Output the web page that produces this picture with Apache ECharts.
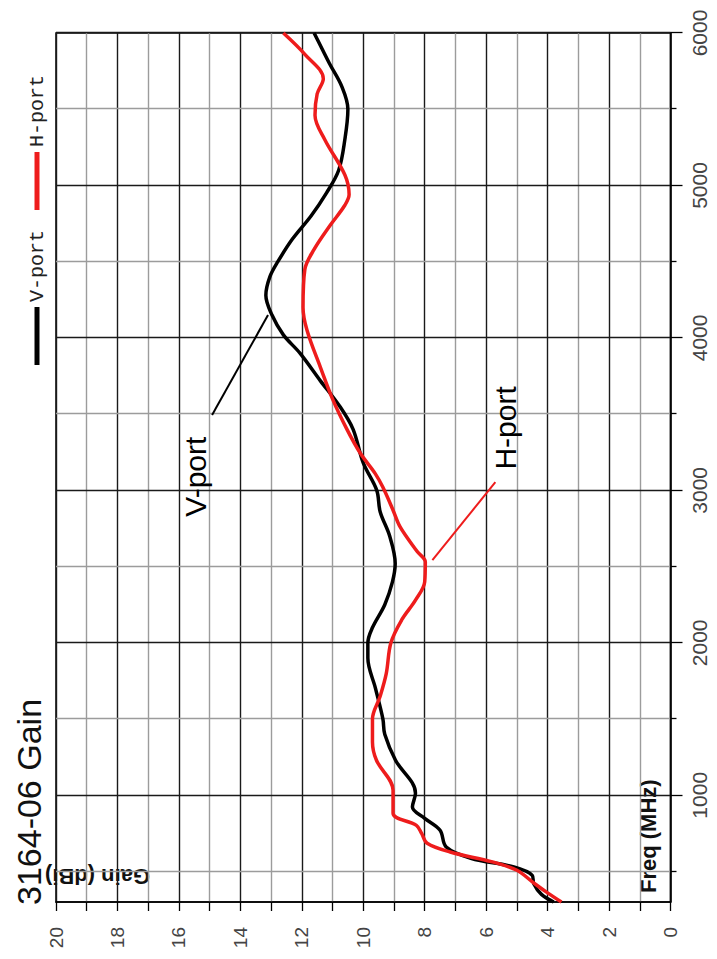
<!DOCTYPE html>
<html>
<head>
<meta charset="utf-8">
<script src="https://cdn.jsdelivr.net/npm/echarts@6/dist/echarts.min.js"></script>
<style>
  html, body { margin: 0; padding: 0; width: 717px; height: 959px; overflow: hidden; background: #fff; }
  /* The gain plot is laid out landscape and turned a quarter turn anticlockwise onto the portrait page. */
  #chart {
    position: absolute; left: 0; top: 0;
    width: 959px; height: 717px;
    transform-origin: 0 0;
    transform: translateY(959px) rotate(-90deg);
  }
</style>
</head>
<body>
<div id="chart"></div>
<script>
// Measured antenna gain, 3164-06, per port
const freqV = [300, 350, 420, 475, 530, 587, 661, 771, 849, 923, 1014, 1230, 1400, 1500, 1700, 1900, 2000, 2100, 2250, 2400, 2520, 2700, 2860, 3000, 3180, 3400, 3550, 3720, 3900, 4020, 4150, 4280, 4400, 4500, 4650, 4800, 4950, 5100, 5300, 5500, 5650, 5800, 5900, 6000];
const gainV = [3.8, 4.2, 4.45, 4.5, 5.1, 6.5, 7.3, 7.5, 8.0, 8.4, 8.3, 8.95, 9.3, 9.36, 9.6, 9.85, 9.85, 9.7, 9.3, 9.05, 8.96, 9.14, 9.45, 9.56, 10.0, 10.33, 10.76, 11.4, 12.06, 12.6, 12.97, 13.17, 13.04, 12.78, 12.3, 11.7, 11.2, 10.8, 10.6, 10.5, 10.7, 11.1, 11.35, 11.6];

const freqH = [300, 360, 423, 508, 563, 628, 685, 750, 803, 882, 1033, 1230, 1350, 1500, 1650, 1800, 2000, 2150, 2280, 2400, 2530, 2600, 2760, 2870, 3020, 3110, 3245, 3400, 3590, 3810, 4050, 4200, 4450, 4580, 4740, 4870, 4940, 5070, 5300, 5460, 5600, 5700, 5860, 6000];
const gainH = [3.55, 4.0, 4.44, 5.0, 5.8, 7.17, 7.92, 8.1, 8.27, 9.03, 9.03, 9.57, 9.7, 9.7, 9.45, 9.25, 9.1, 8.75, 8.3, 8.0, 7.98, 8.25, 8.8, 9.03, 9.36, 9.61, 10.1, 10.53, 10.98, 11.4, 11.83, 11.96, 11.9, 11.6, 11.07, 10.6, 10.46, 10.6, 11.25, 11.57, 11.5, 11.3, 11.9, 12.6];

// Axis ticks
const freqMajorTicks = [1000, 2000, 3000, 4000, 5000, 6000];
const freqMinorTicks = [500, 1500, 2500, 3500, 4500, 5500];
const gainMinorTicks = [1, 3, 5, 7, 9, 11, 13, 15, 17, 19];

// Callouts: [freq, gain] anchors for the label text and the leader line ends
const vLabelAt = [2824, 15.45];
const vLeader = [[3494, 14.92], [4150, 13.1]];
const hLabelAt = [3133, 5.37];
const hLeader = [[3054, 5.7], [2542, 7.75]];

const BLACK = '#000';
const RED = '#ee1c1c';
const GRID_DARK = '#1a1a1a';
const GRID_LIGHT = '#9c9c9c';
const SANS = 'Liberation Sans, Arial, sans-serif';

const pairs = (xs, ys) => xs.map((x, i) => [x, ys[i]]);
const plain = v => String(v);

const chart = echarts.init(document.getElementById('chart'), null, { renderer: 'svg' });

chart.setOption({
  backgroundColor: '#fff',
  animation: false,
  title: {
    text: '3164-06 Gain',
    left: 54, top: 12, padding: 0,
    textStyle: { fontSize: 34, fontWeight: 'normal', fontFamily: SANS, color: '#111' }
  },
  legend: {
    data: ['V-port', 'H-port'],
    right: 70, top: 22,
    icon: 'rect', itemWidth: 58, itemHeight: 5, itemGap: 20,
    textStyle: { fontFamily: 'Liberation Mono, monospace', fontSize: 20, color: '#222' }
  },
  grid: {
    left: 57, right: 33, top: 56, bottom: 46.5,
    show: true, borderColor: BLACK, borderWidth: 1.5, backgroundColor: '#fff'
  },
  xAxis: [
    {
      type: 'value', min: 300, max: 6000, position: 'bottom',
      axisLine: { show: true, lineStyle: { color: BLACK, width: 1.5 } },
      axisTick: { show: true, customValues: freqMajorTicks, length: 12, lineStyle: { color: BLACK, width: 1.3 } },
      axisLabel: { customValues: freqMajorTicks, formatter: plain, margin: 18, fontSize: 21, fontFamily: SANS, color: '#444' },
      splitLine: { show: true, lineStyle: { color: GRID_DARK, width: 1.4 } }
    },
    {
      type: 'value', min: 300, max: 6000, position: 'bottom',
      axisLine: { show: false },
      axisTick: { show: true, customValues: freqMinorTicks, length: 6, lineStyle: { color: BLACK, width: 1.3 } },
      axisLabel: { show: false },
      splitLine: { show: true, lineStyle: { color: GRID_LIGHT, width: 1.4 } }
    }
  ],
  yAxis: [
    {
      type: 'value', min: 0, max: 20, interval: 2, position: 'left',
      axisLine: { show: true, lineStyle: { color: BLACK, width: 1.5 } },
      axisTick: { show: true, length: 9, lineStyle: { color: BLACK, width: 1.3 } },
      axisLabel: { formatter: plain, margin: 25, fontSize: 19, fontFamily: SANS, color: '#444' },
      splitLine: { show: true, lineStyle: { color: GRID_DARK, width: 1.4 } }
    },
    {
      type: 'value', min: 0, max: 20, position: 'left',
      axisLine: { show: false },
      axisTick: { show: true, customValues: gainMinorTicks, length: 9, lineStyle: { color: BLACK, width: 1.3 } },
      axisLabel: { show: false },
      splitLine: { show: true, lineStyle: { color: GRID_LIGHT, width: 1.4 } }
    }
  ],
  graphic: [
    {
      type: 'text', x: 66, y: 648,
      style: { text: 'Freq (MHz)', font: 'bold 22px ' + SANS, fill: '#111', align: 'left', verticalAlign: 'middle' }
    },
    {
      type: 'text', x: 83, y: 97.5, rotation: Math.PI / 2,
      style: { text: 'Gain (dBi)', font: 'bold 22px ' + SANS, fill: '#111', align: 'center', verticalAlign: 'middle' }
    }
  ],
  series: [
    {
      name: 'V-port', type: 'line', xAxisIndex: 0, yAxisIndex: 0,
      data: pairs(freqV, gainV),
      smooth: 0.35, showSymbol: false, z: 3,
      itemStyle: { color: BLACK },
      lineStyle: { color: BLACK, width: 3.5 },
      markLine: {
        silent: true, symbol: 'none', label: { show: false },
        lineStyle: { color: BLACK, width: 2, type: 'solid' },
        data: [[{ coord: vLeader[0] }, { coord: vLeader[1] }]]
      },
      markPoint: {
        silent: true, symbol: 'circle', symbolSize: 1,
        itemStyle: { color: 'rgba(0,0,0,0)' },
        label: { show: true, position: 'right', distance: 0, formatter: 'V-port', fontSize: 30, fontFamily: SANS, color: '#000' },
        data: [{ coord: vLabelAt }]
      }
    },
    {
      name: 'H-port', type: 'line', xAxisIndex: 0, yAxisIndex: 0,
      data: pairs(freqH, gainH),
      smooth: 0.35, showSymbol: false, z: 4,
      itemStyle: { color: RED },
      lineStyle: { color: RED, width: 3.5 },
      markLine: {
        silent: true, symbol: 'none', label: { show: false },
        lineStyle: { color: RED, width: 2, type: 'solid' },
        data: [[{ coord: hLeader[0] }, { coord: hLeader[1] }]]
      },
      markPoint: {
        silent: true, symbol: 'circle', symbolSize: 1,
        itemStyle: { color: 'rgba(0,0,0,0)' },
        label: { show: true, position: 'right', distance: 0, formatter: 'H-port', fontSize: 30, fontFamily: SANS, color: '#000' },
        data: [{ coord: hLabelAt }]
      }
    }
  ]
});
</script>
</body>
</html>
